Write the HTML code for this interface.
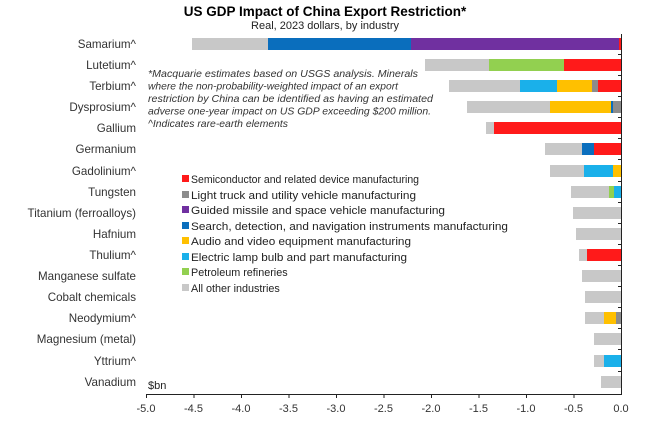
<!DOCTYPE html>
<html><head><meta charset="utf-8"><style>
body{margin:0;background:#fff;}
svg{display:block;font-family:"Liberation Sans",Arial,sans-serif;}
</style></head><body>
<svg width="650" height="422" viewBox="0 0 650 422" xmlns="http://www.w3.org/2000/svg">
<text x="325" y="16" text-anchor="middle" font-size="13.5" font-weight="bold" fill="#000">US GDP Impact of China Export Restriction*</text>
<text x="325" y="29" text-anchor="middle" font-size="11" fill="#222">Real, 2023 dollars, by industry</text>
<g font-size="11.6" fill="#333" text-anchor="end">
<text x="136" y="48">Samarium^</text>
<text x="136" y="69">Lutetium^</text>
<text x="136" y="90">Terbium^</text>
<text x="136" y="111">Dysprosium^</text>
<text x="136" y="132">Gallium</text>
<text x="136" y="153">Germanium</text>
<text x="136" y="175">Gadolinium^</text>
<text x="136" y="196">Tungsten</text>
<text x="136" y="217">Titanium (ferroalloys)</text>
<text x="136" y="238">Hafnium</text>
<text x="136" y="259">Thulium^</text>
<text x="136" y="280">Manganese sulfate</text>
<text x="136" y="301">Cobalt chemicals</text>
<text x="136" y="322">Neodymium^</text>
<text x="136" y="343">Magnesium (metal)</text>
<text x="136" y="365">Yttrium^</text>
<text x="136" y="386">Vanadium</text>
</g>
<g>
<rect x="192" y="38" width="76" height="12" fill="#c8c8c8"/><rect x="268" y="38" width="143" height="12" fill="#0a6ebd"/><rect x="411" y="38" width="208" height="12" fill="#7030a0"/><rect x="619" y="38" width="2" height="12" fill="#ff1a1a"/>
<rect x="425" y="59" width="64" height="12" fill="#c8c8c8"/><rect x="489" y="59" width="75" height="12" fill="#92d050"/><rect x="564" y="59" width="57" height="12" fill="#ff1a1a"/>
<rect x="449" y="80" width="71" height="12" fill="#c8c8c8"/><rect x="520" y="80" width="37" height="12" fill="#1ab0ea"/><rect x="557" y="80" width="35" height="12" fill="#ffc000"/><rect x="592" y="80" width="6" height="12" fill="#8c8c8c"/><rect x="598" y="80" width="23" height="12" fill="#ff1a1a"/>
<rect x="467" y="101" width="83" height="12" fill="#c8c8c8"/><rect x="550" y="101" width="61" height="12" fill="#ffc000"/><rect x="611" y="101" width="2" height="12" fill="#0a6ebd"/><rect x="613" y="101" width="8" height="12" fill="#8c8c8c"/>
<rect x="486" y="122" width="8" height="12" fill="#c8c8c8"/><rect x="494" y="122" width="127" height="12" fill="#ff1a1a"/>
<rect x="545" y="143" width="37" height="12" fill="#c8c8c8"/><rect x="582" y="143" width="12" height="12" fill="#0a6ebd"/><rect x="594" y="143" width="27" height="12" fill="#ff1a1a"/>
<rect x="550" y="165" width="34" height="12" fill="#c8c8c8"/><rect x="584" y="165" width="29" height="12" fill="#1ab0ea"/><rect x="613" y="165" width="8" height="12" fill="#ffc000"/>
<rect x="571" y="186" width="38" height="12" fill="#c8c8c8"/><rect x="609" y="186" width="5" height="12" fill="#92d050"/><rect x="614" y="186" width="7" height="12" fill="#1ab0ea"/>
<rect x="573" y="207" width="48" height="12" fill="#c8c8c8"/>
<rect x="576" y="228" width="45" height="12" fill="#c8c8c8"/>
<rect x="579" y="249" width="8" height="12" fill="#c8c8c8"/><rect x="587" y="249" width="34" height="12" fill="#ff1a1a"/>
<rect x="582" y="270" width="39" height="12" fill="#c8c8c8"/>
<rect x="585" y="291" width="36" height="12" fill="#c8c8c8"/>
<rect x="585" y="312" width="19" height="12" fill="#c8c8c8"/><rect x="604" y="312" width="12" height="12" fill="#ffc000"/><rect x="616" y="312" width="5" height="12" fill="#8c8c8c"/>
<rect x="594" y="333" width="27" height="12" fill="#c8c8c8"/>
<rect x="594" y="355" width="10" height="12" fill="#c8c8c8"/><rect x="604" y="355" width="17" height="12" fill="#1ab0ea"/>
<rect x="601" y="376" width="20" height="12" fill="#c8c8c8"/>
</g>
<g stroke="#222" stroke-width="1">
<line x1="621.5" y1="34" x2="621.5" y2="394"/>
<line x1="146" y1="394.5" x2="622" y2="394.5"/>
<line x1="618" y1="54.5" x2="621" y2="54.5"/><line x1="618" y1="75.5" x2="621" y2="75.5"/><line x1="618" y1="96.5" x2="621" y2="96.5"/><line x1="618" y1="117.5" x2="621" y2="117.5"/><line x1="618" y1="138.5" x2="621" y2="138.5"/><line x1="618" y1="159.5" x2="621" y2="159.5"/><line x1="618" y1="181.5" x2="621" y2="181.5"/><line x1="618" y1="202.5" x2="621" y2="202.5"/><line x1="618" y1="223.5" x2="621" y2="223.5"/><line x1="618" y1="244.5" x2="621" y2="244.5"/><line x1="618" y1="265.5" x2="621" y2="265.5"/><line x1="618" y1="286.5" x2="621" y2="286.5"/><line x1="618" y1="307.5" x2="621" y2="307.5"/><line x1="618" y1="328.5" x2="621" y2="328.5"/><line x1="618" y1="349.5" x2="621" y2="349.5"/><line x1="618" y1="371.5" x2="621" y2="371.5"/>
<line x1="146.5" y1="394" x2="146.5" y2="398"/><line x1="194" y1="394" x2="194" y2="398"/><line x1="241.5" y1="394" x2="241.5" y2="398"/><line x1="289" y1="394" x2="289" y2="398"/><line x1="336.5" y1="394" x2="336.5" y2="398"/><line x1="384" y1="394" x2="384" y2="398"/><line x1="431.5" y1="394" x2="431.5" y2="398"/><line x1="479" y1="394" x2="479" y2="398"/><line x1="526.5" y1="394" x2="526.5" y2="398"/><line x1="574" y1="394" x2="574" y2="398"/>
</g>
<g font-size="11" fill="#333" text-anchor="middle">
<text x="146" y="412">-5.0</text><text x="193.5" y="412">-4.5</text><text x="241" y="412">-4.0</text><text x="288.5" y="412">-3.5</text><text x="336" y="412">-3.0</text><text x="383.5" y="412">-2.5</text><text x="431" y="412">-2.0</text><text x="478.5" y="412">-1.5</text><text x="526" y="412">-1.0</text><text x="573.5" y="412">-0.5</text><text x="621" y="412">0.0</text>
</g>
<text x="148" y="389" font-size="11" fill="#222">$bn</text>
<g font-size="10.1" font-style="italic" fill="#333">
<text x="148" y="77" textLength="270" lengthAdjust="spacingAndGlyphs">*Macquarie estimates based on USGS analysis. Minerals</text>
<text x="148" y="89.5" textLength="250" lengthAdjust="spacingAndGlyphs">where  the non-probability-weighted  impact of an export</text>
<text x="148" y="102" textLength="285" lengthAdjust="spacingAndGlyphs">restriction by China can be identified as having an estimated</text>
<text x="148" y="114.5" textLength="283" lengthAdjust="spacingAndGlyphs">adverse one-year impact on US GDP exceeding $200 million.</text>
<text x="148" y="127" textLength="140" lengthAdjust="spacingAndGlyphs">^Indicates rare-earth elements</text>
</g>
<g font-size="10.8" fill="#222">
<rect x="182" y="175" width="7" height="7" fill="#ff1a1a"/><text x="191" y="183" textLength="228" lengthAdjust="spacingAndGlyphs">Semiconductor and related device manufacturing</text>
<rect x="182" y="191" width="7" height="7" fill="#8c8c8c"/><text x="191" y="199" textLength="225" lengthAdjust="spacingAndGlyphs">Light truck and utility vehicle manufacturing</text>
<rect x="182" y="206" width="7" height="7" fill="#7030a0"/><text x="191" y="214" textLength="254" lengthAdjust="spacingAndGlyphs">Guided missile and space vehicle manufacturing</text>
<rect x="182" y="222" width="7" height="7" fill="#0a6ebd"/><text x="191" y="230" textLength="317" lengthAdjust="spacingAndGlyphs">Search, detection, and navigation instruments manufacturing</text>
<rect x="182" y="237" width="7" height="7" fill="#ffc000"/><text x="191" y="245" textLength="220" lengthAdjust="spacingAndGlyphs">Audio and video equipment manufacturing</text>
<rect x="182" y="253" width="7" height="7" fill="#1ab0ea"/><text x="191" y="261" textLength="216" lengthAdjust="spacingAndGlyphs">Electric lamp bulb and part manufacturing</text>
<rect x="182" y="268" width="7" height="7" fill="#92d050"/><text x="191" y="276">Petroleum refineries</text>
<rect x="182" y="284" width="7" height="7" fill="#c8c8c8"/><text x="191" y="292">All other industries</text>
</g>
</svg>
</body></html>
